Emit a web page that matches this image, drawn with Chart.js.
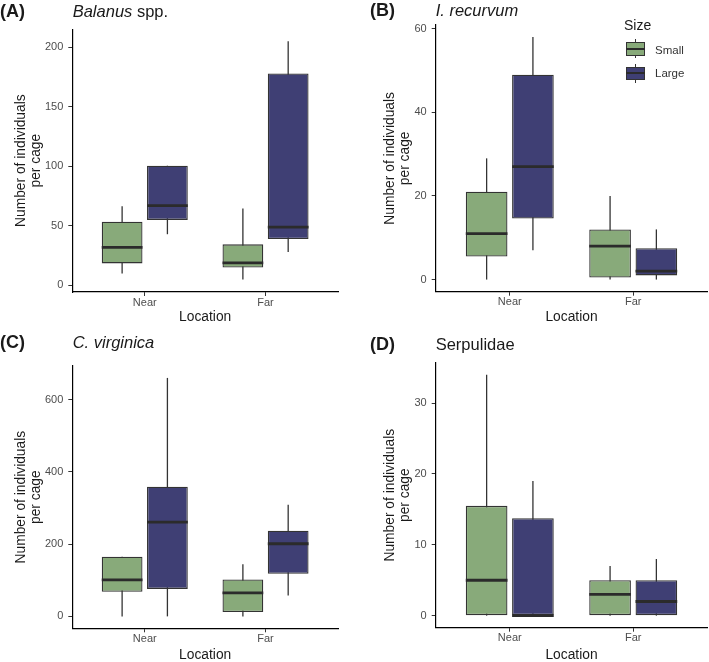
<!DOCTYPE html>
<html>
<head>
<meta charset="utf-8">
<script src="https://cdn.jsdelivr.net/npm/chart.js@4.4.0/dist/chart.umd.min.js"></script>
<style>
  body { margin: 0; background: #fff; font-family: "Liberation Sans", Arial, sans-serif; color: #1a1a1a; }
  #page { position: relative; width: 709px; height: 662px; overflow: hidden; }
  canvas { position: absolute; }
  .txt { position: absolute; white-space: nowrap; }
  .tag { font-weight: bold; font-size: 18px; line-height: 18px; }
  .title { font-size: 16.5px; line-height: 16.5px; }
  .key { position: absolute; }
  .key .wh { position: absolute; left: 9.2px; top: 0; width: 1.2px; height: 19px; background: #333; }
  .key .bx { position: absolute; left: 0; top: 3px; width: 17.3px; height: 11.7px; border: 1px solid #333; }
  .key .md { position: absolute; left: 0; top: 8.6px; width: 19.3px; height: 2px; background: #2b2b2b; }
</style>
</head>
<body>
<div id="page">
  <canvas id="cA" width="354" height="331" style="left:0;top:0"></canvas>
  <canvas id="cB" width="355" height="331" style="left:354px;top:0"></canvas>
  <canvas id="cC" width="354" height="331" style="left:0;top:331px"></canvas>
  <canvas id="cD" width="355" height="331" style="left:354px;top:331px"></canvas>

  <div class="txt tag" style="left:0;top:2.1px">(A)</div>
  <div class="txt title" style="left:72.7px;top:3.3px"><i>Balanus</i> spp.</div>
  <div class="txt tag" style="left:370px;top:0.5px">(B)</div>
  <div class="txt title" style="left:435.7px;top:1.7px"><i>I. recurvum</i></div>
  <div class="txt tag" style="left:0;top:333.1px">(C)</div>
  <div class="txt title" style="left:72.7px;top:334.3px"><i>C. virginica</i></div>
  <div class="txt tag" style="left:370px;top:334.8px">(D)</div>
  <div class="txt title" style="left:435.7px;top:336px">Serpulidae</div>

  <div class="txt" style="left:624px;top:18.1px;font-size:14px;line-height:14px">Size</div>
  <div class="key" style="left:626px;top:39.3px;width:19.3px;height:19px">
    <div class="wh"></div><div class="bx" style="background:#88aa7a"></div><div class="md"></div>
  </div>
  <div class="txt" style="left:655px;top:45.1px;font-size:11.5px;line-height:11.5px;color:#333">Small</div>
  <div class="key" style="left:626px;top:63.7px;width:19.3px;height:19px">
    <div class="wh"></div><div class="bx" style="background:#3f3f74"></div><div class="md"></div>
  </div>
  <div class="txt" style="left:655px;top:67.7px;font-size:11.5px;line-height:11.5px;color:#333">Large</div>
</div>
<script>
const locations = ['Near', 'Far']
const sizes = ['Small', 'Large']

// per location: [lower whisker, Q1, median, Q3, upper whisker]
const balanusSmall = [[10, 18.5, 32, 53.5, 66.5], [5, 15, 19, 34.5, 64.5]]
const balanusLarge = [[43, 55, 67, 100.5, 100.5], [28, 39, 49, 178, 205]]
const recurvumSmall = [[0, 5.5, 11, 21, 29], [0, 0.5, 8, 12, 20]]
const recurvumLarge = [[7, 14.6, 27, 49, 58], [0, 1, 2, 7.5, 12]]
const virginicaSmall = [[0, 68, 101, 165, 165], [0, 12, 65, 102, 144]]
const virginicaLarge = [[0, 76, 261, 359, 660], [58, 118, 201, 237, 309]]
const serpulidaeSmall = [[0, 0, 5, 15.5, 34], [0, 0, 3, 5, 7]]
const serpulidaeLarge = [[0, 0, 0, 13.75, 19], [0, 0, 2, 5, 8]]

const balanusTicks = [0, 50, 100, 150, 200]
const recurvumTicks = [0, 20, 40, 60]
const virginicaTicks = [0, 200, 400, 600]
const serpulidaeTicks = [0, 10, 20, 30]

const fills = ['#88aa7a', '#3f3f74']
const dodge = [-0.1875, 0.1875]
const H = 331

// whiskers behind the boxes, medians on top
const boxPlot = {
  id: 'boxPlot',
  beforeDatasetsDraw(chart) {
    const ctx = chart.ctx
    const y = chart.scales.y
    ctx.save()
    ctx.strokeStyle = '#333333'
    ctx.lineWidth = 1.3
    chart.data.datasets.forEach((ds, k) => {
      chart.getDatasetMeta(k).data.forEach((bar, i) => {
        const s = ds.stats[i]
        ctx.beginPath()
        ctx.moveTo(bar.x, y.getPixelForValue(s[0]))
        ctx.lineTo(bar.x, y.getPixelForValue(s[4]))
        ctx.stroke()
      })
    })
    ctx.restore()
  },
  afterDatasetsDraw(chart) {
    const ctx = chart.ctx
    const y = chart.scales.y
    ctx.save()
    ctx.strokeStyle = '#2b2b2b'
    ctx.lineWidth = 2.8
    chart.data.datasets.forEach((ds, k) => {
      chart.getDatasetMeta(k).data.forEach((bar, i) => {
        const py = y.getPixelForValue(ds.stats[i][2])
        ctx.beginPath()
        ctx.moveTo(bar.x - bar.width / 2, py)
        ctx.lineTo(bar.x + bar.width / 2, py)
        ctx.stroke()
      })
    })
    ctx.restore()
  }
}

function drawPanel(p) {
  new Chart(document.getElementById(p.id), {
    type: 'bar',
    data: {
      datasets: p.series.map((s, k) => ({
        label: sizes[k],
        stats: s,
        data: locations.map((loc, i) => ({ x: i + 1 + dodge[k], y: [s[i][1], s[i][3]] })),
        backgroundColor: fills[k],
        borderColor: '#333333',
        borderWidth: 1.3,
        borderSkipped: false,
        grouped: false,
        barPercentage: 0.9,
        categoryPercentage: 1
      }))
    },
    options: {
      responsive: false,
      animation: false,
      layout: { padding: { left: p.padLeft, top: p.top, right: p.width - p.right, bottom: 0 } },
      plugins: { legend: { display: false }, tooltip: { enabled: false } },
      scales: {
        x: {
          type: 'linear',
          min: 0.4,
          max: 2.6,
          offset: false,
          afterBuildTicks: s => { s.ticks = locations.map((l, i) => ({ value: i + 1 })) },
          afterFit: s => { s.height = H - p.bottom },
          grid: { display: true, offset: false, drawOnChartArea: false, tickLength: 4, tickColor: '#333', tickWidth: 1 },
          border: { display: true, color: '#000', width: 1.2 },
          ticks: { padding: 0, color: '#4d4d4d', font: { size: 11, family: 'Liberation Sans' }, callback: v => locations[v - 1] },
          title: { display: true, text: 'Location', color: '#1a1a1a', font: { size: 13.8, family: 'Liberation Sans', lineHeight: 1 }, padding: { top: 0, bottom: p.xTitlePad } }
        },
        y: {
          min: p.yMin,
          max: p.yMax,
          afterBuildTicks: s => { s.ticks = p.ticks.map(v => ({ value: v })) },
          afterFit: s => { s.width = p.left - p.padLeft },
          grid: { display: true, drawOnChartArea: false, tickLength: 4, tickColor: '#333', tickWidth: 1 },
          border: { display: true, color: '#000', width: 1.2 },
          ticks: { padding: 5, color: '#4d4d4d', font: { size: 11, family: 'Liberation Sans' } },
          title: { display: true, text: ['Number of individuals', 'per cage'], color: '#1a1a1a', font: { size: 13.8, family: 'Liberation Sans', lineHeight: 1.04 }, padding: { top: 14.5, bottom: 0 } }
        }
      }
    },
    plugins: [boxPlot]
  })
}

drawPanel({ id: 'cA', series: [balanusSmall, balanusLarge], ticks: balanusTicks, yMin: -5.5, yMax: 215,
  width: 354, padLeft: 0, left: 72.3, right: 338, top: 29.3, bottom: 292, xTitlePad: 6.6 })
drawPanel({ id: 'cB', series: [recurvumSmall, recurvumLarge], ticks: recurvumTicks, yMin: -2.9, yMax: 60.9,
  width: 355, padLeft: 15, left: 81.7, right: 353.3, top: 25, bottom: 291.7, xTitlePad: 6.6 })
drawPanel({ id: 'cC', series: [virginicaSmall, virginicaLarge], ticks: virginicaTicks, yMin: -33, yMax: 693,
  width: 354, padLeft: 0, left: 72.3, right: 338, top: 35, bottom: 297.3, xTitlePad: 0.4 })
drawPanel({ id: 'cD', series: [serpulidaeSmall, serpulidaeLarge], ticks: serpulidaeTicks, yMin: -1.7, yMax: 35.7,
  width: 355, padLeft: 15, left: 81.7, right: 353.3, top: 31.7, bottom: 296.7, xTitlePad: 0.4 })
</script>
</body>
</html>
